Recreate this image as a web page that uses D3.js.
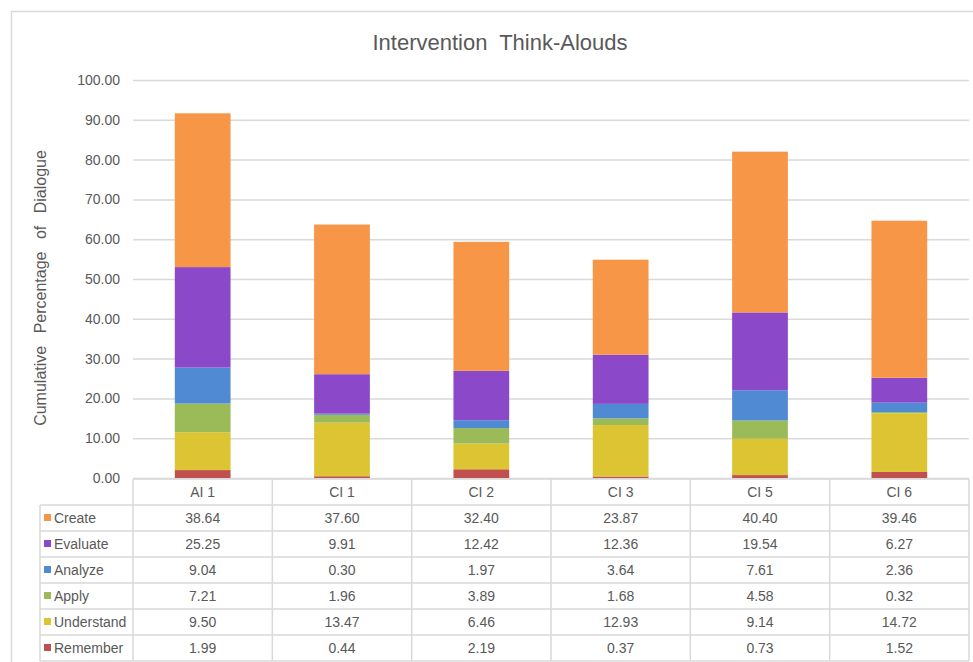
<!DOCTYPE html>
<html>
<head>
<meta charset="utf-8">
<script src="https://cdn.jsdelivr.net/npm/d3@7"></script>
<style>
  body { margin: 0; background: #fff; }
  svg { display: block; font-family: "Liberation Sans", Arial, sans-serif; }
</style>
</head>
<body>
<div id="chart"></div>
<script>
// categories + series (bottom -> top in the stack)
var categories = ['AI 1', 'CI 1', 'CI 2', 'CI 3', 'CI 5', 'CI 6'];
var seriesNames = ['Remember', 'Understand', 'Apply', 'Analyze', 'Evaluate', 'Create'];
var remember   = [1.99, 0.44, 2.19, 0.37, 0.73, 1.52];
var understand = [9.50, 13.47, 6.46, 12.93, 9.14, 14.72];
var apply      = [7.21, 1.96, 3.89, 1.68, 4.58, 0.32];
var analyze    = [9.04, 0.30, 1.97, 3.64, 7.61, 2.36];
var evaluate   = [25.25, 9.91, 12.42, 12.36, 19.54, 6.27];
var create     = [38.64, 37.60, 32.40, 23.87, 40.40, 39.46];
var yTicks = [0, 10, 20, 30, 40, 50, 60, 70, 80, 90, 100];

var colors = {
  Remember: '#c0504d', Understand: '#dcc433', Apply: '#9bbb59',
  Analyze: '#4f8ad3', Evaluate: '#8b48c9', Create: '#f79646'
};
var values = { Remember: remember, Understand: understand, Apply: apply,
  Analyze: analyze, Evaluate: evaluate, Create: create };

var width = 973, height = 662;
var plotLeft = 133, plotRight = 969, plotTop = 80, plotBottom = 478;
var tableLeft = 40, rowH = 26;
var textColor = '#595959', lineColor = '#d9d9d9';

var rows = categories.map(function(c, i) {
  var r = { cat: c };
  seriesNames.forEach(function(s) { r[s] = values[s][i]; });
  return r;
});
var stacked = d3.stack().keys(seriesNames)(rows);

var svg = d3.select('#chart').append('svg')
  .attr('width', width).attr('height', height);

// outer chart border (cropped at right/bottom like the reference)
svg.append('rect')
  .attr('x', 11.5).attr('y', 11.5)
  .attr('width', width).attr('height', height)
  .attr('fill', 'none').attr('stroke', lineColor).attr('stroke-width', 1.5);

var x = d3.scaleBand().domain(categories)
  .range([plotLeft, plotRight]).paddingInner(0.6).paddingOuter(0.3);
var y = d3.scaleLinear().domain([0, 100]).range([plotBottom, plotTop]);

// gridlines + y labels
var yAxis = d3.axisLeft(y).tickValues(yTicks).tickFormat(d3.format('.2f'))
  .tickSize(-(plotRight - plotLeft)).tickPadding(13);
var ga = svg.append('g').attr('transform', 'translate(' + plotLeft + ',0)').call(yAxis);
ga.select('.domain').remove();
ga.selectAll('.tick line').attr('stroke', lineColor).attr('stroke-width', 1.5);
ga.selectAll('.tick text').attr('fill', textColor).style('font-size', '14px');

// bars
svg.append('g').selectAll('g')
  .data(stacked)
  .enter().append('g')
  .attr('fill', function(d) { return colors[d.key]; })
  .selectAll('rect')
  .data(function(d) { return d; })
  .enter().append('rect')
  .attr('x', function(d) { return x(d.data.cat); })
  .attr('width', x.bandwidth())
  .attr('y', function(d) { return y(d[1]); })
  .attr('height', function(d) { return y(d[0]) - y(d[1]); });

// title
svg.append('text')
  .attr('x', 500).attr('y', 50)
  .attr('text-anchor', 'middle')
  .attr('fill', textColor)
  .style('font-size', '22px')
  .style('word-spacing', '6px')
  .text('Intervention Think-Alouds');

// y axis title
svg.append('text')
  .attr('transform', 'translate(46,' + 288 + ') rotate(-90)')
  .attr('text-anchor', 'middle')
  .attr('fill', textColor)
  .style('font-size', '16px')
  .style('word-spacing', '8px')
  .text('Cumulative Percentage of Dialogue');

// data table
var step = x.step();
var colEdge = function(i) { return plotLeft + i * step; };
var tableTop = plotBottom + 1;
var tableBottom = tableTop + rowH * (seriesNames.length + 1);
var tg = svg.append('g');

// vertical lines
tg.append('line').attr('x1', tableLeft).attr('x2', tableLeft)
  .attr('y1', tableTop + rowH).attr('y2', tableBottom)
  .attr('stroke', lineColor).attr('stroke-width', 1.5);
d3.range(categories.length + 1).forEach(function(i) {
  tg.append('line').attr('x1', colEdge(i)).attr('x2', colEdge(i))
    .attr('y1', tableTop).attr('y2', tableBottom)
    .attr('stroke', lineColor).attr('stroke-width', 1.5);
});
// horizontal lines
tg.append('line').attr('x1', plotLeft).attr('x2', plotRight)
  .attr('y1', tableTop).attr('y2', tableTop)
  .attr('stroke', lineColor).attr('stroke-width', 1.5);
d3.range(1, seriesNames.length + 2).forEach(function(r) {
  tg.append('line').attr('x1', tableLeft).attr('x2', plotRight)
    .attr('y1', tableTop + r * rowH).attr('y2', tableTop + r * rowH)
    .attr('stroke', lineColor).attr('stroke-width', 1.5);
});

// header (categories)
tg.selectAll('.hdr').data(categories).enter().append('text')
  .attr('x', function(d) { return x(d) + x.bandwidth() / 2; })
  .attr('y', tableTop + rowH / 2 + 5)
  .attr('text-anchor', 'middle').attr('fill', textColor)
  .style('font-size', '14px').text(function(d) { return d; });

// rows: top row is Create, down to Remember
var tableOrder = seriesNames.slice().reverse();
tableOrder.forEach(function(s, r) {
  var cy = tableTop + (r + 1) * rowH + rowH / 2;
  tg.append('rect').attr('x', 44).attr('y', cy - 4)
    .attr('width', 7).attr('height', 7).attr('fill', colors[s]);
  tg.append('text').attr('x', 54).attr('y', cy + 5)
    .attr('fill', textColor).style('font-size', '14px').text(s);
  tg.selectAll('.v' + r).data(values[s]).enter().append('text')
    .attr('x', function(d, i) { return x(categories[i]) + x.bandwidth() / 2; })
    .attr('y', cy + 5)
    .attr('text-anchor', 'middle').attr('fill', textColor)
    .style('font-size', '14px')
    .text(function(d) { return d.toFixed(2); });
});
</script>
</body>
</html>
